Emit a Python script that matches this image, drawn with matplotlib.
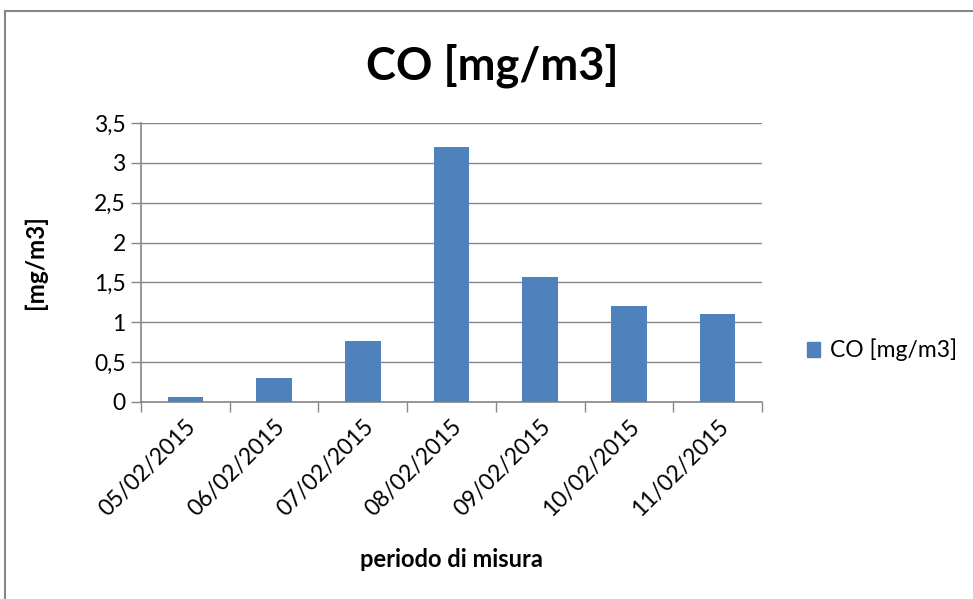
import matplotlib
matplotlib.use("Agg")
import matplotlib.pyplot as plt
from matplotlib.lines import Line2D
import numpy as np

categories = ["05/02/2015", "06/02/2015", "07/02/2015", "08/02/2015",
              "09/02/2015", "10/02/2015", "11/02/2015"]
values = [0.06, 0.30, 0.76, 3.20, 1.57, 1.20, 1.10]
yticks = [0, 0.5, 1, 1.5, 2, 2.5, 3, 3.5]
ytick_labels = ["0", "0,5", "1", "1,5", "2", "2,5", "3", "3,5"]
series_name = "CO [mg/m3]"

plt.rcParams['font.family'] = ['Lato', 'DejaVu Sans']

fig = plt.figure(figsize=(9.73, 5.99), dpi=100)
ax = fig.add_axes([141/973, 1-402/599, (762-141)/973, (402-123)/599])

color = "#4F81BD"
x = np.arange(len(categories))
ax.bar(x, values, width=0.4, color=color, label=series_name, zorder=3)

ax.set_xlim(-0.5, len(categories)-0.5)
ax.set_ylim(0, 3.5)
ax.set_yticks(yticks)
ax.set_yticklabels(ytick_labels, fontsize=16.5)
ax.yaxis.grid(True, color="#868686", linewidth=1, zorder=0)
ax.set_axisbelow(True)

ax.set_xticks(x)
ax.set_xticklabels(categories, rotation=45, ha="right", rotation_mode="anchor", fontsize=16.5)
ax.tick_params(axis="x", which="major", length=0, pad=10)
ax.set_xticks(np.arange(-0.5, len(categories), 1), minor=True)
ax.tick_params(axis="x", which="minor", length=7, color="#868686", width=1)
ax.tick_params(axis="y", length=7, color="#868686", width=1, pad=4)

for s in ["top", "right"]:
    ax.spines[s].set_visible(False)
for s in ["left", "bottom"]:
    ax.spines[s].set_color("#868686")
    ax.spines[s].set_linewidth(1.2)

ax.set_xlabel("periodo di misura", fontsize=17, fontweight="bold")
ax.set_ylabel("[mg/m3]", fontsize=17.5, fontweight="bold")
ax.xaxis.set_label_coords(0.5, (402-548)/279)
ax.yaxis.set_label_coords((47-141)/621, 0.5)

fig.text(492/973, 1-66/599, "CO [mg/m3]", ha="center", va="center", fontsize=32.5, fontweight="bold")

h = [plt.Rectangle((0, 0), 1, 1, color=color)]
fig.legend(h, [series_name], loc="center left", bbox_to_anchor=(786/973, 1-350/599),
           frameon=False, fontsize=16.5, handlelength=0.6, handleheight=0.6, handletextpad=0.4)

# outer chart border
fig.add_artist(Line2D([5/973, 5/973], [0, 1-11/599], color="#868686", linewidth=1.5))
fig.add_artist(Line2D([5/973, 1], [1-11/599, 1-11/599], color="#868686", linewidth=1.5))

fig.savefig("out.png", dpi=100)
